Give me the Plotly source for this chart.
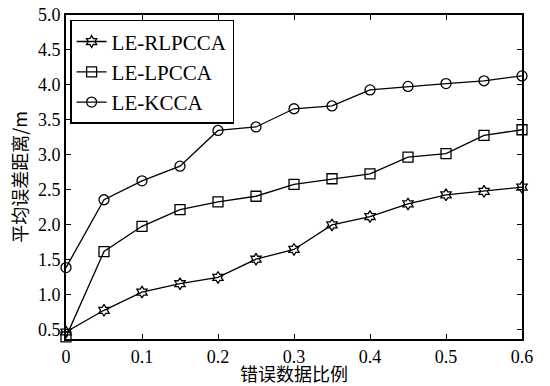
import plotly.graph_objects as go

x = [0, 0.05, 0.1, 0.15, 0.2, 0.25, 0.3, 0.35, 0.4, 0.45, 0.5, 0.55, 0.6]
rlpcca = [0.47, 0.78, 1.04, 1.16, 1.25, 1.51, 1.65, 2.00, 2.12, 2.30, 2.43, 2.48, 2.54]
lpcca = [0.40, 1.62, 1.98, 2.22, 2.33, 2.41, 2.58, 2.66, 2.73, 2.97, 3.02, 3.28, 3.36]
kcca = [1.39, 2.36, 2.63, 2.84, 3.35, 3.40, 3.66, 3.70, 3.93, 3.98, 4.02, 4.06, 4.13]
names = ["LE-RLPCCA", "LE-LPCCA", "LE-KCCA"]
xticks = [0, 0.1, 0.2, 0.3, 0.4, 0.5, 0.6]
xticklabels = ["0", "0.1", "0.2", "0.3", "0.4", "0.5", "0.6"]
yticks = [0.5, 1.0, 1.5, 2.0, 2.5, 3.0, 3.5, 4.0, 4.5, 5.0]

serif = "Times New Roman, Liberation Serif, serif"
cjk = "Noto Sans CJK SC"

fig = go.Figure()
for ys, nm, sym, sz in [(rlpcca, names[0], "hexagram-open", 9),
                        (lpcca, names[1], "square-open", 10),
                        (kcca, names[2], "circle-open", 10)]:
    fig.add_trace(go.Scatter(x=x, y=ys, name=nm, mode="lines+markers",
                             line=dict(color="black", width=1.3),
                             marker=dict(symbol=sym, size=sz, color="black",
                                         line=dict(width=1.3, color="black")),
                             cliponaxis=False))

fig.update_layout(
    width=550, height=386,
    margin=dict(l=66, r=28, t=15, b=47),
    paper_bgcolor="white", plot_bgcolor="white",
    font=dict(family=serif, color="black", size=18),
    legend=dict(x=0.009, y=0.985, xanchor="left", yanchor="top",
                bordercolor="black", borderwidth=1.5, bgcolor="white",
                font=dict(family=serif, size=21), tracegroupgap=0,
                itemwidth=30),
    showlegend=True,
)
fig.update_xaxes(range=[0, 0.6], tickvals=xticks, ticktext=xticklabels,
                 ticks="inside", ticklen=5, tickcolor="black", mirror="ticks",
                 showline=True, linecolor="black", linewidth=2, showgrid=False,
                 zeroline=False, automargin=False, ticklabeloverflow="allow",
                 tickfont=dict(family=serif, size=18),
                 title=dict(text="错误数据比例", font=dict(family=cjk, size=18), standoff=5))
fig.update_yaxes(range=[0.37, 5.0], tickvals=yticks,
                 tickformat=".1f",
                 ticks="inside", ticklen=5, tickcolor="black", mirror="ticks",
                 showline=True, linecolor="black", linewidth=2, showgrid=False,
                 zeroline=False, automargin=False, ticklabeloverflow="allow",
                 tickfont=dict(family=serif, size=18),
                 title=dict(text="平均误差距离/m", font=dict(family=cjk, size=18), standoff=6))

fig.write_html("out.html", config={"displayModeBar": False},
               post_script="document.body.style.margin='0';document.body.style.padding='0';")
